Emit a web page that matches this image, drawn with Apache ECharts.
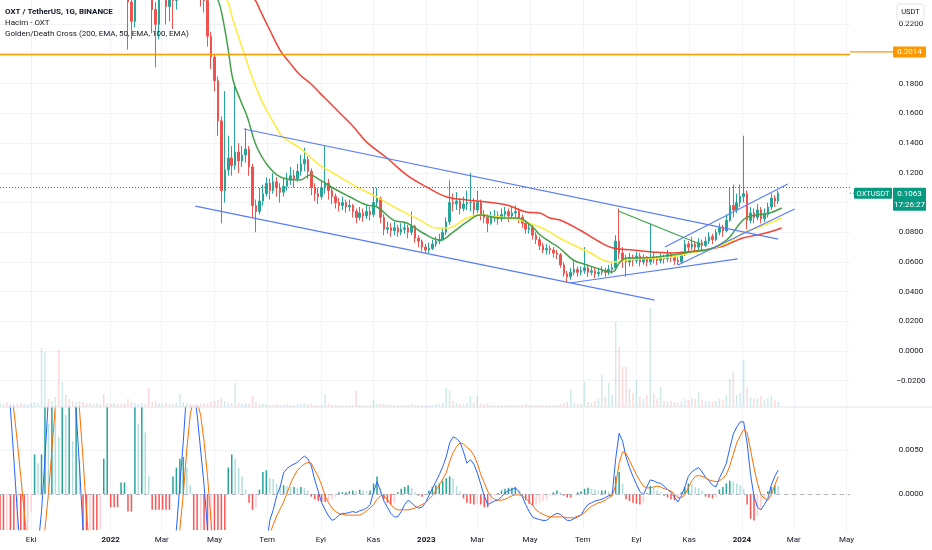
<!DOCTYPE html>
<html><head><meta charset="utf-8">
<script src="https://cdn.jsdelivr.net/npm/echarts@6/dist/echarts.min.js"></script>
<style>html,body{margin:0;padding:0;background:#fff}#c{width:932px;height:550px}</style>
</head><body><div id="c"></div>
<script>
// ---------- DATA (4-day candles, OXT/USDT) ----------
const startDate = '2021-08-26';
const stepDays = 4;
const firstOpen = 0.39;
const closes = [
.40,.42,.38,.35,.36,.34,.33,.34,.36,.37,
.39,.41,.44,.46,.43,.45,.47,.46,.48,.47,
.44,.41,.42,.39,.36,.34,.35,.33,.34,.32,
.30,.31,.29,.30,.28,.27,.26,.235,.222,.245,
.255,.265,.26,.245,.23,.22,.238,.25,.232,.24,
.236,.252,.27,.29,.31,.30,.28,.262,.245,.236,
.212,.198,.182,.155,.108,.122,.13,.125,.134,.128,
.132,.136,.124,.098,.094,.101,.106,.113,.108,.114,
.11,.107,.111,.115,.118,.116,.121,.126,.129,.121,
.11,.106,.104,.11,.113,.108,.104,.1,.098,.1,
.097,.098,.094,.09,.093,.091,.094,.092,.1,.103,
.09,.082,.083,.081,.083,.08,.082,.083,.08,.084,
.076,.074,.07,.068,.069,.072,.074,.075,.08,.087,
.1,.099,.101,.096,.099,.1,.1,.095,.1,.092,
.09,.086,.09,.091,.089,.092,.094,.091,.093,.094,
.09,.086,.082,.083,.078,.075,.071,.068,.069,.068,
.066,.065,.058,.052,.05,.053,.055,.053,.054,.056,
.053,.054,.052,.053,.054,.053,.055,.056,.074,.066,
.062,.06,.063,.061,.064,.06,.062,.06,.063,.062,
.061,.063,.062,.065,.063,.061,.06,.065,.072,.07,
.072,.07,.073,.071,.074,.077,.075,.08,.083,.081,
.088,.098,.095,.1,.104,.106,.088,.093,.09,.095,
.089,.092,.097,.103,.101,.1063];
const highs = [
.42,.44,.43,.39,.38,.37,.35,.36,.37,.39,
.41,.43,.47,.49,.47,.48,.50,.52,.51,.50,
.48,.45,.44,.43,.40,.37,.37,.36,.36,.35,
.33,.33,.32,.32,.31,.29,.28,.265,.245,.25,
.27,.28,.275,.265,.25,.235,.245,.26,.255,.25,
.248,.26,.28,.30,.33,.32,.31,.285,.265,.25,
.24,.215,.2,.185,.158,.175,.145,.138,.18,.14,
.138,.15,.138,.126,.102,.11,.112,.117,.116,.12,
.117,.113,.116,.12,.124,.122,.126,.132,.137,.131,
.123,.113,.11,.114,.138,.116,.11,.106,.103,.104,
.102,.102,.099,.096,.097,.096,.098,.097,.11,.11,
.104,.092,.087,.086,.087,.085,.086,.087,.085,.094,
.085,.078,.075,.072,.073,.075,.077,.079,.083,.09,
.115,.106,.107,.103,.104,.108,.12,.103,.108,.102,
.095,.092,.094,.095,.094,.096,.097,.096,.097,.098,
.096,.092,.088,.086,.085,.08,.077,.073,.072,.071,
.07,.068,.066,.06,.054,.056,.061,.057,.057,.07,
.058,.057,.056,.056,.057,.056,.058,.059,.078,.096,
.07,.065,.066,.065,.067,.066,.065,.064,.086,.066,
.064,.066,.065,.068,.066,.064,.063,.067,.075,.074,
.077,.074,.076,.075,.077,.08,.079,.082,.086,.085,
.092,.11,.112,.106,.112,.145,.108,.097,.096,.099,
.097,.096,.1,.106,.105,.108];
const lows = [
.38,.39,.33,.30,.33,.32,.31,.32,.33,.35,
.36,.38,.40,.43,.41,.42,.44,.43,.45,.44,
.42,.39,.39,.36,.33,.31,.32,.30,.31,.30,
.27,.28,.27,.28,.26,.25,.245,.203,.21,.218,
.24,.25,.245,.238,.214,.191,.21,.238,.22,.222,
.217,.23,.248,.265,.28,.28,.26,.245,.232,.228,
.205,.19,.175,.145,.086,.10,.118,.118,.122,.12,
.124,.127,.118,.09,.08,.092,.098,.104,.102,.106,
.104,.1,.104,.108,.112,.11,.114,.118,.121,.116,
.105,.101,.099,.102,.106,.102,.099,.096,.094,.095,
.093,.094,.09,.086,.088,.087,.089,.088,.09,.097,
.086,.078,.079,.077,.078,.077,.078,.079,.076,.078,
.073,.07,.067,.066,.066,.068,.07,.072,.074,.078,
.085,.094,.095,.092,.094,.095,.094,.091,.093,.088,
.086,.08,.085,.087,.085,.087,.089,.087,.089,.09,
.086,.083,.079,.079,.075,.072,.068,.066,.065,.065,
.063,.062,.056,.05,.046,.048,.051,.05,.051,.052,
.05,.051,.049,.05,.051,.05,.051,.052,.054,.062,
.056,.05,.057,.057,.059,.057,.058,.057,.058,.059,
.058,.059,.059,.06,.06,.058,.058,.059,.064,.066,
.068,.066,.068,.068,.07,.072,.072,.074,.078,.077,
.08,.087,.09,.093,.097,.1,.082,.086,.086,.088,
.086,.087,.09,.095,.097,.099];
const volumes = [
4,3,5,4,3,3,4,3,3,4,
5,4,59,55,8,6,10,57,25,12,
8,6,5,6,5,4,4,3,4,3,
13,4,3,4,3,3,4,8,5,4,
3,4,3,19,5,6,4,3,4,3,
3,4,13,5,4,3,3,3,3,4,
4,5,6,7,9,6,4,4,24,4,
3,4,3,11,5,3,3,3,2,2,
3,2,2,3,2,2,3,3,4,3,
3,2,2,2,13,3,2,2,2,2,
2,2,2,16,2,2,2,2,7,3,
3,3,2,2,2,2,2,2,2,3,
2,2,2,2,2,2,3,3,4,19,
17,6,4,3,3,4,11,4,11,3,
3,4,2,2,2,2,2,2,2,2,
2,2,3,2,2,2,2,2,2,2,
2,2,3,4,5,18,4,3,3,25,
5,4,6,8,32,10,24,12,85,60,
40,40,18,14,27,10,8,12,99,14,
8,20,6,5,6,5,4,6,8,7,
9,8,15,7,6,6,5,6,8,7,
12,28,35,12,14,47,20,10,8,9,
11,7,9,11,7,5];
const macdLine = [
.016,.013,.011,.0098,.004,-.002,-.007,-.011,-.013,-.012,
-.009,-.006,-.002,.004,.011,.017,.021,.024,.025,.024,
.021,.016,.0095,.003,-.004,-.010,-.014,-.016,-.017,-.017,
-.016,-.015,-.015,-.015,-.016,-.016,-.017,-.019,-.020,-.018,
-.015,-.012,-.010,-.010,-.011,-.012,-.011,-.010,-.010,-.009,
-.007,-.004,.001,.006,.012,.014,.012,.009,.005,.001,
-.004,-.009,-.014,-.020,-.027,-.030,-.031,-.030,-.028,-.026,
-.024,-.022,-.021,-.020,-.018,-.013,-.009,-.006,-.003,-.0018,
-.0002,.0008,.0024,.0029,.0032,.0034,.0036,.0040,.0043,.0040,
.0032,.0016,.0003,-.0010,-.0018,-.0025,-.0030,-.0028,-.0024,-.0022,
-.0022,-.0021,-.0020,-.0021,-.0019,-.0018,-.0016,-.0012,.0002,.0014,
.0004,-.0008,-.0015,-.0022,-.0026,-.0026,-.0020,-.0012,-.0007,-.0010,
-.0014,-.0016,-.0015,-.0010,-.0002,.0006,.0014,.0022,.0031,.0042,
.0058,.0065,.0063,.0059,.0048,.0035,.0039,.0034,.0024,.0011,
-.0002,-.0012,-.0010,-.0008,-.0007,-.0003,.0001,.0004,.0005,.0007,
.0003,-.0003,-.0012,-.0020,-.0026,-.0028,-.0029,-.0030,-.0030,-.0027,
-.0024,-.0022,-.0023,-.0027,-.0030,-.0030,-.0028,-.0026,-.0024,-.0017,
-.0012,-.0010,-.0008,-.0007,-.0006,-.0004,-.0002,-.0001,.0040,.0069,
.0060,.0042,.0030,.0020,.0011,.0003,-.0001,.0008,.0016,.0015,
.0013,.0012,.0009,.0005,.0002,-.0004,-.0009,-.0002,.0008,.0020,
.0025,.0028,.0030,.0025,.0019,.0015,.0010,.0008,.0018,.0026,
.0035,.0052,.0068,.0076,.0082,.0082,.0058,.0022,-.0003,-.0015,
-.0018,-.0012,-.0005,.0010,.0020,.0027];
const signalLine = [
.018,.016,.014,.012,.0095,.006,.002,-.002,-.006,-.008,
-.0085,-.0085,-.007,-.004,.000,.005,.010,.014,.017,.019,
.0195,.018,.015,.0095,.004,-.002,-.007,-.010,-.013,-.015,
-.016,-.016,-.016,-.0155,-.0155,-.016,-.016,-.017,-.018,-.018,
-.017,-.015,-.013,-.012,-.011,-.011,-.011,-.011,-.010,-.010,
-.009,-.007,-.004,.000,.005,.009,.011,.0105,.009,.006,
.002,-.003,-.008,-.013,-.019,-.024,-.027,-.028,-.028,-.027,
-.026,-.020,-.019,-.017,-.015,-.013,-.011,-.0075,-.0045,-.0035,
-.0025,-.0017,-.0009,.0001,.0012,.0020,.0027,.0031,.0034,.0036,
.0035,.0027,.0020,.0010,-.0002,-.0010,-.0016,-.0020,-.0022,-.0023,
-.0024,-.0024,-.0024,-.0024,-.0024,-.0022,-.0019,-.0016,-.0012,-.0006,
-.0002,-.0002,-.0006,-.0012,-.0016,-.0018,-.0018,-.0018,-.0018,-.0017,
-.0016,-.0014,-.0012,-.0010,-.0006,-.0002,.0004,.0010,.0017,.0024,
.0037,.0047,.0054,.0058,.0057,.0053,.0050,.0044,.0035,.0022,
.0013,.0003,-.0003,-.0006,-.0007,-.0007,-.0006,-.0004,-.0002,-.0001,
-.0001,-.0002,-.0005,-.0009,-.0013,-.0018,-.0021,-.0023,-.0025,-.0026,
-.0026,-.0026,-.0026,-.0026,-.0027,-.0027,-.0027,-.0025,-.0024,-.0021,
-.0017,-.0014,-.0012,-.0010,-.0009,-.0007,-.0004,-.0002,.0010,.0035,
.0048,.0046,.0038,.0030,.0022,.0015,.0009,.0007,.0007,.0008,
.0009,.0008,.0006,.0005,.0003,.0000,-.0004,-.0004,-.0001,.0007,
.0015,.0020,.0021,.0020,.0018,.0016,.0015,.0014,.0015,.0018,
.0022,.0032,.0045,.0058,.0066,.0073,.0070,.0050,.0030,.0012,
-.0001,-.0005,-.0007,-.0001,.0010,.0020];
const macdHist = [
-.006,-.006,-.005,-.006,-.006,-.004,-.006,-.006,-.005,-.002,
.0045,.0035,.0045,.012,.008,.012,.0095,.0065,.012,.009,
.012,.006,.012,.004,-.006,-.006,-.005,-.006,-.006,-.004,
.004,.011,-.0015,-.0015,-.0015,.0013,.0013,-.002,-.002,.011,
.008,.011,.007,.002,-.0018,-.0018,-.0018,-.0018,-.0018,-.0018,
.002,.003,.004,.0042,.003,.001,-.006,-.006,-.005,-.006,
-.006,-.005,-.006,-.006,-.006,-.006,.003,.0045,.004,.003,
.002,.0005,-.001,-.0018,-.0015,.0005,.0025,.0027,.0018,.0017,
.0012,.0010,.0010,.0009,.0008,.0008,.0007,.0008,.0007,.0004,
-.0003,-.0006,-.0008,-.0009,-.0009,-.0008,-.0006,-.0004,.0002,.0002,
.0002,.0003,.0004,.0003,.0005,.0004,.0003,.0004,.0012,.0020,
.0006,-.0006,-.0010,-.0012,-.0010,.0002,.0006,.0008,.0010,.0007,
.0002,-.0002,-.0003,.0000,.0004,.0008,.0010,.0012,.0015,.0018,
.0020,.0018,.0009,.0003,-.0005,-.0010,-.0011,-.0012,-.0011,-.0012,
-.0015,-.0015,-.0009,-.0002,.0001,.0004,.0006,.0007,.0007,.0008,
.0004,-.0002,-.0007,-.0011,-.0013,-.0012,-.0010,-.0008,-.0006,-.0002,
.0002,.0004,.0002,-.0002,-.0004,-.0004,.0000,.0002,.0003,.0006,
.0007,.0006,.0005,.0004,.0004,.0004,.0003,.0002,.0020,.0025,
.0012,-.0006,-.0008,-.0010,-.0011,-.0012,-.0010,.0001,.0009,.0007,
.0004,.0002,-.0002,-.0004,-.0006,-.0007,-.0006,.0002,.0008,.0012,
.0011,.0008,.0007,.0004,-.0003,-.0004,-.0005,-.0004,.0005,.0008,
.0012,.0015,.0014,.0012,.0010,.0006,-.0012,-.0028,-.0030,-.0025,
-.0018,-.0005,.0003,.0008,.0010,.0009];
// EMA points: [day offset from 2022-01-01, price]
const ema50 = [[-128,.40],[-100,.41],[-70,.43],[-40,.42],[-10,.37],[20,.31],[50,.275],[80,.265],[109,.25],[124,.2364],[130,.2229],[136,.2027],[141.5,.1825],[150,.169],[158,.1576],[169,.1374],[184,.1232],[199,.1165],[219,.1152],[230.5,.1185],[242,.1152],[257,.1098],[277,.1037],[296,.0983],[308,.097],[327,.0882],[342.5,.0862],[361,.0795],[381,.0747],[396,.0801],[412,.0869],[427,.0916],[450,.0896],[470,.0896],[488,.0835],[496,.0785],[508,.0735],[519,.0694],[535,.0613],[551,.0579],[569,.0545],[580,.0532],[589,.0599],[597,.0626],[612,.0626],[632,.0633],[650,.0646],[670,.0667],[689,.068],[704,.0714],[716,.0768],[728,.0862],[736,.0902],[747,.0916],[762,.0929],[776,.0963]];
const ema100 = [[-128,.36],[-80,.39],[-40,.39],[0,.36],[40,.32],[80,.29],[110,.265],[134.6,.2364],[141.5,.2229],[153,.2027],[163.5,.1845],[172.7,.171],[182,.1603],[192,.1502],[199,.1441],[219,.1367],[238.6,.1266],[257,.1199],[285,.1104],[308,.1037],[334.6,.0949],[357.7,.0882],[377,.0828],[389,.0828],[412,.0896],[427,.0916],[450,.0902],[473,.0882],[496,.0835],[508,.0801],[519,.0761],[535,.0714],[554.8,.066],[569,.0613],[580,.0599],[597,.0613],[612,.062],[632,.0626],[650,.0633],[670,.066],[689,.068],[708,.0714],[719.5,.0747],[731,.0795],[747,.0828],[762,.0862],[776,.0896]];
const ema200 = [[-128,.30],[-80,.33],[-40,.35],[0,.35],[50,.32],[100,.28],[140,.255],[167,.2364],[172.7,.2296],[184,.2162],[195.8,.2027],[207.4,.1939],[219,.1859],[230.5,.1805],[242,.1737],[253.6,.167],[265,.1603],[280,.1515],[296,.1407],[319.5,.13],[342.5,.1185],[365.7,.1104],[389,.1037],[412,.1017],[435,.1003],[458,.0983],[481,.0936],[496,.0929],[508,.0896],[519.5,.0882],[542.5,.0815],[565.7,.0734],[580.8,.0694],[604,.068],[627,.0667],[650,.066],[666,.0667],[685,.068],[704.5,.07],[719.5,.0734],[731,.0761],[747,.0781],[762,.0801],[776,.0828]];
// drawn trend lines: [day1, price1, day2, price2, kind]
const trendLines = [
  [154,.1495,772,.0754,'blue'],
  [98,.0976,629,.0343,'blue'],
  [587,.0943,684,.0714,'green'],
  [531,.0458,725,.0620,'blue'],
  [641,.0700,783,.1125,'blue'],
  [656,.0579,791,.0956,'blue']
];
const horizontalLevel = 0.2014;
const lastPrice = 0.1063;
const lastTime = '17:26:27';
const symbolName = 'OXTUSDT';
const timeTickDates = ['2021-10-01','2022-01-01','2022-03-01','2022-05-01','2022-07-01','2022-09-01','2022-11-01','2023-01-01','2023-03-01','2023-05-01','2023-07-01','2023-09-01','2023-11-01','2024-01-01','2024-03-01','2024-05-01'];
const timeTickLabels = ['Eki','2022','Mar','May','Tem','Eyl','Kas','2023','Mar','May','Tem','Eyl','Kas','2024','Mar','May'];
const priceTicks = [-0.02,0,0.02,0.04,0.06,0.08,0.10,0.12,0.14,0.16,0.18,0.20,0.22];
const priceLabelSkip = [0.10, 0.20]; // hidden behind price tags
const macdTicks = [0, 0.005];
const legendLines = ['OXT / TetherUS, 1G, BINANCE','Hacim - OXT','Golden/Death Cross (200, EMA, 50, EMA, 100, EMA)'];

// ---------- BUILD ----------
function dayOf(s){const p=s.split('-').map(Number);return (Date.UTC(p[0],p[1]-1,p[2])-Date.UTC(2022,0,1))/86400000;}
const d0 = dayOf(startDate);
const xMin = -128, xMax = 855;
const UP='#26a69a', DOWN='#ef5350';
const candles=[], vols=[], macdD=[], sigD=[], histD=[];
for(let i=0;i<closes.length;i++){
  const d=d0+stepDays*i;
  const o=i?closes[i-1]:firstOpen, c=closes[i];
  const hi=Math.max(highs[i],o,c), lo=Math.min(lows[i],o,c);
  candles.push([d,o,c,lo,hi]);
  vols.push({value:[d,volumes[i]],itemStyle:{color:c>=o?'rgba(38,166,154,0.22)':'rgba(239,83,80,0.22)'}});
  macdD.push([d,macdLine[i]]); sigD.push([d,signalLine[i]]);
  const h=macdHist[i], ph=i?macdHist[i-1]:0;
  const col = h>=0 ? (h>=ph?'#26a69a':'#b2dfdb') : (h>ph?'#ffcdd2':'#ff5252');
  histD.push({value:[d,h],itemStyle:{color:col}});
}
const tickDays = timeTickDates.map(dayOf);
const FONT='Roboto';
const pMin=-0.0377, pMax=0.2364, mMin=-0.00409, mMax=0.009886;
const gridC='#f0f3fa';
function lineSeries(data,color,w){return {type:'line',xAxisIndex:0,yAxisIndex:0,data:data,smooth:0.4,showSymbol:false,symbol:'none',lineStyle:{color:color,width:w},z:4,silent:true,clip:true};}
const series=[
  {type:'bar',xAxisIndex:0,yAxisIndex:1,data:vols,barWidth:1.5,z:1,silent:true},
  {type:'candlestick',xAxisIndex:0,yAxisIndex:0,data:candles,encode:{x:0,y:[1,2,3,4]},barWidth:2,clip:true,z:3,silent:true,
   itemStyle:{color:UP,color0:DOWN,borderColor:UP,borderColor0:DOWN,borderWidth:1},
   markLine:{symbol:['none','none'],silent:true,animation:false,label:{show:false},
     data:[{yAxis:horizontalLevel,lineStyle:{color:'#ff9800',width:1.3,type:'solid'}},
           {yAxis:lastPrice,lineStyle:{color:'#089981',width:1,type:[1,2]}}]}},
  lineSeries(ema200,'#f44336',1.5),
  lineSeries(ema100,'#ffeb3b',1.5),
  lineSeries(ema50,'#43a047',1.5),
];
trendLines.forEach(t=>{series.push({type:'line',xAxisIndex:0,yAxisIndex:0,data:[[t[0],t[1]],[t[2],t[3]]],showSymbol:false,symbol:'none',
  lineStyle:{color:t[4]==='green'?'#43a047':'#5b7cf7',width:1.2},z:6,silent:true});});
series.push({type:'bar',xAxisIndex:1,yAxisIndex:2,data:histD,barWidth:1.5,z:2,silent:true,
  markLine:{symbol:['none','none'],silent:true,animation:false,label:{show:false},data:[{yAxis:0,lineStyle:{color:'#b2b5be',type:[4,4],width:1}}]}});
series.push({type:'line',xAxisIndex:1,yAxisIndex:2,data:macdD,showSymbol:false,symbol:'none',lineStyle:{color:'#2962ff',width:1},z:4,silent:true});
series.push({type:'line',xAxisIndex:1,yAxisIndex:2,data:sigD,showSymbol:false,symbol:'none',lineStyle:{color:'#ff6d00',width:1},z:4,silent:true});

function xAxisDef(gi,showLabels){
  return {gridIndex:gi,type:'value',min:xMin,max:xMax,axisLine:{show:false},
    axisTick:{show:false,customValues:tickDays},
    axisLabel:{show:showLabels,customValues:tickDays,fontSize:8,color:'#131722',margin:6,fontFamily:FONT,
      formatter:function(v){const k=tickDays.indexOf(v);const s=k>=0?timeTickLabels[k]:'';return /^\d{4}$/.test(s)?'{y|'+s+'}':s;},
      rich:{y:{fontWeight:'bold',fontSize:8,color:'#131722',fontFamily:FONT}}},
    splitLine:{show:true,lineStyle:{color:gridC,width:1}}};
}
const option={
  animation:false,
  backgroundColor:'#ffffff',
  textStyle:{fontFamily:FONT},
  grid:[{left:0,right:82,top:0,height:407,outerBoundsMode:'none'},{left:0,right:82,top:407,height:123,outerBoundsMode:'none'}],
  xAxis:[xAxisDef(0,false),xAxisDef(1,true)],
  yAxis:[
    {gridIndex:0,type:'value',position:'right',min:pMin,max:pMax,axisLine:{show:false},
     axisTick:{show:false,customValues:priceTicks},
     axisLabel:{customValues:priceTicks,align:'center',margin:61,fontSize:8,color:'#131722',fontFamily:FONT,
       formatter:function(v){if(priceLabelSkip.some(s=>Math.abs(s-v)<1e-9))return '';return (v<0?'\u2212':'')+Math.abs(v).toFixed(4);}},
     splitLine:{show:true,lineStyle:{color:gridC,width:1}}},
    {gridIndex:0,type:'value',min:0,max:407,show:false},
    {gridIndex:1,type:'value',position:'right',min:mMin,max:mMax,axisLine:{show:false},
     axisTick:{show:false,customValues:macdTicks},
     axisLabel:{customValues:macdTicks,align:'center',margin:61,fontSize:8,color:'#131722',fontFamily:FONT,
       formatter:function(v){return v.toFixed(4);}},
     splitLine:{show:true,lineStyle:{color:gridC,width:1}}}
  ],
  series:series
};
const chart=echarts.init(document.getElementById('c'),null,{renderer:'canvas'});
chart.setOption(option);

// tags and overlays positioned through the chart's own scales
const gx=chart.convertToPixel({xAxisIndex:0},xMax);
const pyH=chart.convertToPixel({yAxisIndex:0},horizontalLevel);
const pyL=chart.convertToPixel({yAxisIndex:0},lastPrice);
const sepY=chart.convertToPixel({yAxisIndex:0},pMin);
const g=[];
legendLines.forEach((t,k)=>{g.push({type:'text',x:5,y:12+11*k,z:100,style:{text:t,fill:'#131722',fontSize:8,fontFamily:FONT,fontWeight:k===0?'bold':'normal',verticalAlign:'middle',align:'left'}});});
g.push({type:'line',z:50,shape:{x1:0,y1:sepY,x2:932,y2:sepY},style:{stroke:'#e0e3eb',lineWidth:1}});
g.push({type:'rect',z:100,shape:{x:gx+47,y:4,width:27,height:17,r:3},style:{fill:'#fff',stroke:'#e0e3eb',lineWidth:1}});
g.push({type:'text',z:101,x:gx+60.5,y:12.5,style:{text:'USDT',fill:'#131722',fontSize:7.5,fontFamily:FONT,align:'center',verticalAlign:'middle'}});
g.push({type:'line',z:100,shape:{x1:gx,y1:pyH,x2:gx+43,y2:pyH},style:{stroke:'#ff9800',lineWidth:1.3}});
g.push({type:'rect',z:100,shape:{x:gx+43,y:pyH-5.5,width:33,height:11,r:1},style:{fill:'#ff9800'}});
g.push({type:'text',z:101,x:gx+59.5,y:pyH+0.5,style:{text:horizontalLevel.toFixed(4),fill:'#ffffff',fontSize:8,fontFamily:FONT,align:'center',verticalAlign:'middle'}});
g.push({type:'line',z:100,shape:{x1:gx,y1:pyL,x2:gx+4,y2:pyL},style:{stroke:'#089981',lineWidth:1,lineDash:[1,2]}});
g.push({type:'rect',z:100,shape:{x:gx+4,y:pyL-5.5,width:38,height:11,r:1},style:{fill:'#089981'}});
g.push({type:'text',z:101,x:gx+23,y:pyL+0.5,style:{text:symbolName,fill:'#ffffff',fontSize:7.5,fontFamily:FONT,align:'center',verticalAlign:'middle'}});
g.push({type:'rect',z:100,shape:{x:gx+43,y:pyL-5.5,width:33,height:23,r:1},style:{fill:'#089981'}});
g.push({type:'text',z:101,x:gx+59.5,y:pyL+0.5,style:{text:lastPrice.toFixed(4),fill:'#ffffff',fontSize:8,fontFamily:FONT,align:'center',verticalAlign:'middle'}});
g.push({type:'text',z:101,x:gx+59.5,y:pyL+11.5,style:{text:lastTime,fill:'#ffffff',fontSize:8,fontFamily:FONT,align:'center',verticalAlign:'middle'}});
chart.setOption({graphic:g});
</script></body></html>
